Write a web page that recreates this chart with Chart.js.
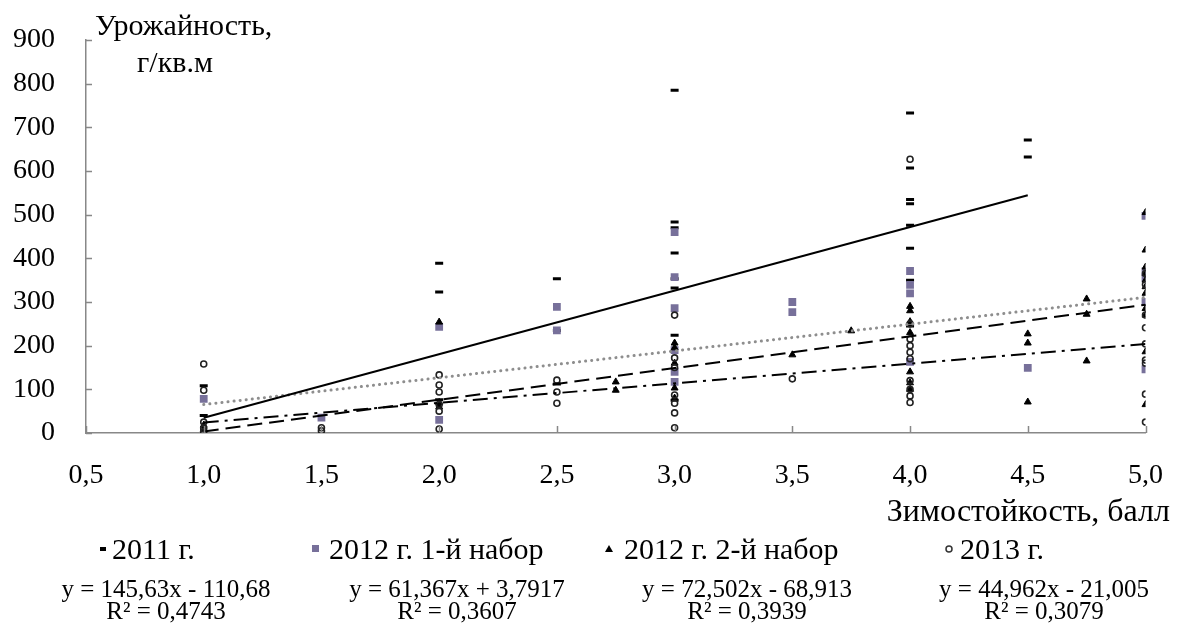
<!DOCTYPE html>
<html>
<head>
<meta charset="utf-8">
<script src="https://cdn.jsdelivr.net/npm/chart.js@4.4.0/dist/chart.umd.min.js"></script>
<style>
  body { margin: 0; background: #fff; }
  canvas { display: block; }
</style>
</head>
<body>
<canvas id="chart" width="1181" height="630"></canvas>
<script>
// Зимостойкость (x) и урожайность (y) по сериям
const x2011 = [1, 1, 2, 2, 2, 2.5, 2.5, 2.5, 3, 3, 3, 3, 3, 3, 3, 3, 4, 4, 4, 4, 4, 4, 4, 4, 4.5, 4.5];
const y2011 = [108, 40, 389, 323, 76, 353, 235, 112, 785, 483, 470, 412, 353, 332, 224, 75, 733, 607, 535, 525, 476, 423, 350, 245, 671, 632];

const x2012a = [1, 1.5, 2, 2, 2.5, 2.5, 3, 3, 3, 3, 3, 3, 3.5, 3.5, 4, 4, 4, 4, 4.5, 5, 5, 5, 5, 5];
const y2012a = [78, 35, 243, 30, 289, 235, 460, 357, 286, 190, 140, 117, 300, 277, 371, 339, 320, 163, 149, 497, 370, 355, 300, 146];

const x2012b = [1, 1, 2, 2, 2, 2.75, 2.75, 3, 3, 3, 3, 3, 3.5, 3.75, 4, 4, 4, 4, 4, 4, 4, 4.5, 4.5, 4.5, 4.75, 4.75, 4.75, 5, 5, 5, 5, 5, 5, 5, 5, 5, 5, 5];
const y2012b = [18, 8, 254, 70, 60, 117, 98, 206, 195, 160, 103, 80, 179, 234, 290, 280, 255, 230, 140, 115, 100, 227, 206, 71, 307, 272, 165, 505, 419, 380, 365, 350, 335, 320, 285, 270, 186, 65];

const x2013 = [1, 1, 1, 1, 1, 1.5, 1.5, 2, 2, 2, 2, 2, 2, 2.5, 2.5, 2.5, 3, 3, 3, 3, 3, 3, 3, 3.5, 4, 4, 4, 4, 4, 4, 4, 4, 4, 4, 5, 5, 5, 5, 5, 5, 5, 5, 5];
const y2013 = [158, 98, 25, 10, 3, 12, 5, 133, 110, 94, 65, 50, 9, 121, 94, 68, 270, 172, 150, 87, 68, 46, 12, 124, 627, 250, 215, 200, 185, 170, 120, 100, 85, 70, 365, 340, 270, 241, 204, 167, 160, 89, 25];

const seriesNames = ["2011 г.", "2012 г. 1-й набор", "2012 г. 2-й набор", "2013 г."];

// Линии тренда: y = a*x + b, диапазон x
const trendA = [145.63, 61.367, 72.502, 44.962];
const trendB = [-110.68, 3.7917, -68.913, -21.005];
const trendFrom = [1, 1, 1, 1];
const trendTo = [4.5, 5, 5, 5];
const trendEq = ["y = 145,63x - 110,68", "y = 61,367x + 3,7917", "y = 72,502x - 68,913", "y = 44,962x - 21,005"];
const trendR2 = ["R² = 0,4743", "R² = 0,3607", "R² = 0,3939", "R² = 0,3079"];

const xTicks = [0.5, 1, 1.5, 2, 2.5, 3, 3.5, 4, 4.5, 5];

const SERIF = '"Liberation Serif", "Times New Roman", serif';
const PURPLE = "#77709a";

function pts(xs, ys) { return xs.map((x, i) => ({ x: x, y: ys[i] })); }
function trend(i) {
  return [trendFrom[i], trendTo[i]].map(x => ({ x: x, y: trendA[i] * x + trendB[i] }));
}

const trendStyles = [
  { borderColor: "#000", borderWidth: 2, borderDash: [] },
  { borderColor: "#8e8e8e", borderWidth: 3, borderDash: [0.1, 6], borderCapStyle: "round" },
  { borderColor: "#000", borderWidth: 2, borderDash: [15, 7] },
  { borderColor: "#000", borderWidth: 2, borderDash: [15, 6, 3, 6] },
];

const trendSets = trendStyles.map((s, i) => Object.assign({
  type: "line", data: trend(i), pointRadius: 0, fill: false, order: 0,
}, s));

// засечки внутрь, подписи осей, легенда и уравнения
const extras = {
  id: "extras",
  afterDraw(chart) {
    const { ctx, scales: { x, y } } = chart;
    ctx.save();
    ctx.strokeStyle = "#888";
    ctx.lineWidth = 1.5;
    ctx.beginPath();
    y.ticks.forEach(t => {
      const py = Math.round(y.getPixelForValue(t.value)) + 0.5;
      ctx.moveTo(x.left, py); ctx.lineTo(x.left + 6, py);
    });
    xTicks.forEach(v => {
      const px = Math.round(x.getPixelForValue(v)) + 0.5;
      ctx.moveTo(px, y.bottom); ctx.lineTo(px, y.bottom - 7);
    });
    ctx.stroke();

    ctx.fillStyle = "#000";
    ctx.textBaseline = "alphabetic";
    ctx.font = "30px " + SERIF;
    ctx.textAlign = "left";
    ctx.fillText("Урожайность,", 95, 35);
    ctx.fillText("г/кв.м", 137, 72);
    ctx.textAlign = "right";
    ctx.font = "32px " + SERIF;
    ctx.fillText("Зимостойкость, балл", 1170, 521);

    // легенда
    const legX = [112, 329, 624, 960];
    ctx.textAlign = "left";
    ctx.font = "30px " + SERIF;
    seriesNames.forEach((name, i) => ctx.fillText(name, legX[i], 559));
    const my = 549;
    ctx.fillStyle = "#000";
    ctx.fillRect(100, my - 2, 6, 4);
    ctx.fillStyle = PURPLE;
    ctx.fillRect(312, my - 4, 7, 7);
    ctx.fillStyle = "#000";
    ctx.beginPath();
    ctx.moveTo(609, my - 4); ctx.lineTo(613, my + 3); ctx.lineTo(605, my + 3); ctx.closePath();
    ctx.fill();
    ctx.strokeStyle = "#333";
    ctx.lineWidth = 1.5;
    ctx.beginPath();
    ctx.arc(949, my, 3, 0, Math.PI * 2);
    ctx.stroke();

    // уравнения трендов
    const eqX = [166, 457, 747, 1044];
    ctx.textAlign = "center";
    ctx.font = "25px " + SERIF;
    ctx.fillStyle = "#000";
    trendEq.forEach((t, i) => ctx.fillText(t, eqX[i], 597));
    trendR2.forEach((t, i) => ctx.fillText(t, eqX[i], 619));
    ctx.restore();
  }
};

new Chart(document.getElementById("chart"), {
  type: "scatter",
  data: {
    datasets: [
      { label: seriesNames[0], data: pts(x2011, y2011), pointStyle: "line", pointRadius: 4, borderWidth: 3, borderColor: "#000", backgroundColor: "#000", order: 4 },
      { label: seriesNames[1], data: pts(x2012a, y2012a), pointStyle: "rect", pointRadius: 5.5, borderWidth: 0, borderColor: PURPLE, backgroundColor: PURPLE, order: 3 },
      { label: seriesNames[2], data: pts(x2012b, y2012b), pointStyle: "triangle", pointRadius: 4, borderWidth: 1, borderColor: "#000", backgroundColor: "#000", order: 2 },
      { label: seriesNames[3], data: pts(x2013, y2013), pointStyle: "circle", pointRadius: 3, borderWidth: 1.6, borderColor: "#222", backgroundColor: "rgba(255,255,255,0)", order: 1 },
    ].concat(trendSets)
  },
  options: {
    responsive: false,
    animation: false,
    layout: { padding: { left: 0, top: 40, right: 26, bottom: 132 } },
    plugins: { legend: { display: false }, tooltip: { enabled: false } },
    scales: {
      x: {
        type: "linear", min: 0.5, max: 5,
        afterFit(s) { s.height = 65; },
        afterBuildTicks(s) { s.ticks = xTicks.map(v => ({ value: v })); },
        border: { color: "#888", width: 1.5 },
        grid: { display: false },
        ticks: {
          padding: 18, color: "#000",
          font: { family: "Liberation Serif", size: 28 },
          callback: v => v.toFixed(1).replace(".", ",")
        }
      },
      y: {
        min: 0, max: 900,
        afterFit(s) { s.width = 86; },
        border: { color: "#888", width: 1.5 },
        grid: { display: false },
        ticks: {
          stepSize: 100, padding: 23, color: "#000",
          font: { family: "Liberation Serif", size: 28 }
        }
      }
    }
  },
  plugins: [extras]
});
</script>
</body>
</html>
